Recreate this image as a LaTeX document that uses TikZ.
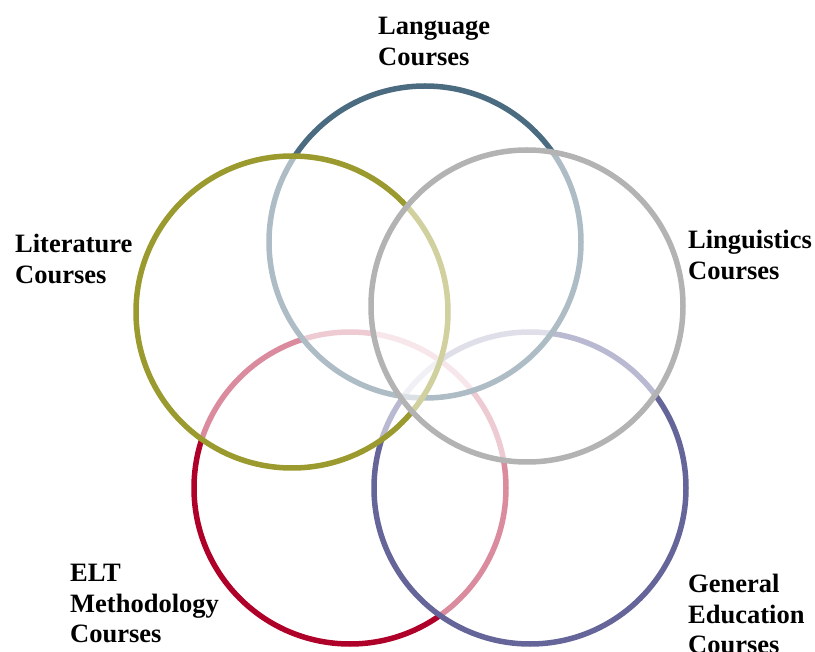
\documentclass[tikz,border=0pt]{standalone}
\usepackage{fontspec}
\setmainfont{Liberation Serif}
\usetikzlibrary{positioning}

\definecolor{langcol}{HTML}{4B6C80}
\definecolor{linguicol}{HTML}{B3B3B3}
\definecolor{litcol}{HTML}{9A9A2E}
\definecolor{eltcol}{HTML}{AE0028}
\definecolor{gencol}{HTML}{65659A}

\tikzset{
	ring/.style={circle, draw=#1, line width=5.5pt, fill=white, fill opacity=.55, text opacity=1, minimum size=312pt, inner sep=0pt},
	courselabel/.style={anchor=north west, align=left, inner sep=0pt, font=\fontsize{26.5}{30.5}\selectfont\bfseries}
}

\begin{document}
\begin{tikzpicture}[x=1pt,y=-1pt]
		\useasboundingbox (0,0) rectangle (815,652);
		% rings, back to front
		\node [ring=eltcol] (elt) at (350,488) {};
		\node [ring=gencol] (gen) at (530,488) {};
		\node [ring=langcol] (lang) at (425,242) {};
		\node [ring=litcol] (lit) at (292,312) {};
		\node [ring=linguicol] (lingui) at (527,306) {};
		% labels
		\node [courselabel] (langlabel) at (378,17) {Language\\Courses};
		\node [courselabel] (litlabel) at (15,234) {Literature\\Courses};
		\node [courselabel] (linguilabel) at (688,230) {Linguistics\\Courses};
		\node [courselabel] (eltlabel) at (70,564) {ELT\\Methodology\\Courses};
		\node [courselabel] (genlabel) at (688,574) {General\\Education\\Courses};
	\end{tikzpicture}
\end{document}
